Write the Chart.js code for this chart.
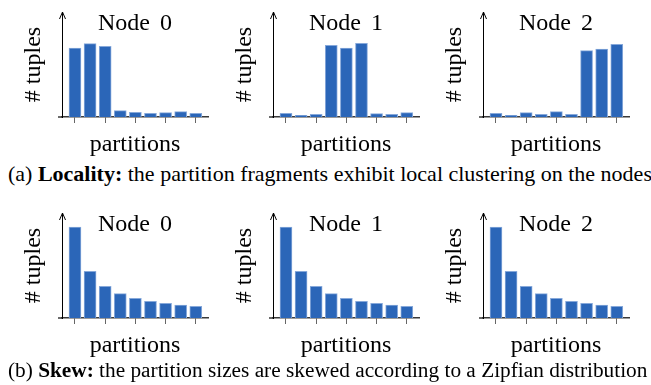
<!DOCTYPE html>
<html>
<head>
<meta charset="utf-8">
<script src="https://cdn.jsdelivr.net/npm/chart.js@4/dist/chart.umd.min.js"></script>
<style>
  body { margin: 0; background: #fff; }
  #fig { position: relative; width: 651px; height: 385px; overflow: hidden; font-family: "Liberation Serif", "Times New Roman", serif; }
  #fig canvas { position: absolute; }
  .cap { position: absolute; left: 8px; line-height: 22px; white-space: nowrap; color: #000; }
</style>
</head>
<body>
<div id="fig">
  <canvas id="a0" width="210" height="160" style="left:0px;top:0px"></canvas>
  <canvas id="a1" width="210" height="160" style="left:211px;top:0px"></canvas>
  <canvas id="a2" width="210" height="160" style="left:421px;top:0px"></canvas>
  <div class="cap" style="top:163px;font-size:22px">(a) <b>Locality:</b> the partition fragments exhibit local clustering on the nodes</div>
  <canvas id="b0" width="210" height="160" style="left:0px;top:201px"></canvas>
  <canvas id="b1" width="210" height="160" style="left:211px;top:201px"></canvas>
  <canvas id="b2" width="210" height="160" style="left:421px;top:201px"></canvas>
  <div class="cap" style="top:359px;font-size:21.3px">(b) <b>Skew:</b> the partition sizes are skewed according to a Zipfian distribution</div>
</div>
<script>
const nodeNames = ["Node 0", "Node 1", "Node 2"];
const partitions = [0, 1, 2, 3, 4, 5, 6, 7, 8];
const tickPartitions = [0, 2, 4, 6, 8];

// (a) locality: tuples per partition on each node
const localityNode0 = [69, 73.3, 70.7, 6.3, 4.7, 3.7, 4.3, 5.3, 3.7];
const localityNode1 = [3.7, 1.7, 2.7, 71.7, 69, 73.7, 3.3, 2.7, 4.3];
const localityNode2 = [3.7, 1.7, 4.3, 2.7, 5.3, 2.7, 66.3, 68, 72.7];

// (b) skew: zipfian partition sizes (same on every node)
const skewNode0 = [91, 46.7, 31.7, 24.3, 19.7, 16.7, 14.7, 13, 11.7];
const skewNode1 = [91, 46.7, 31.7, 24.3, 19.7, 16.7, 14.7, 13, 11.7];
const skewNode2 = [91, 46.7, 31.7, 24.3, 19.7, 16.7, 14.7, 13, 11.7];

const yMax = 105;

Chart.defaults.font.family = '"Liberation Serif", "Times New Roman", serif';
Chart.defaults.color = '#000';

// arrow on the y axis, small x axis overhang and the node title
const axisExtras = {
    id: 'axisExtras',
    afterDraw(chart, args, opts) {
        const { ctx, chartArea: a } = chart;
        const x0 = Math.round(a.left) + 0.5;
        ctx.save();
        ctx.strokeStyle = '#000';
        ctx.lineWidth = 1;
        ctx.beginPath();
        ctx.moveTo(x0 - 3, a.top + 7);
        ctx.lineTo(x0, a.top);
        ctx.lineTo(x0 + 3, a.top + 7);
        ctx.stroke();

        ctx.strokeStyle = '#3a3a3a';
        ctx.lineWidth = 1.5;
        ctx.beginPath();
        ctx.moveTo(a.left - 4, a.bottom);
        ctx.lineTo(a.left, a.bottom);
        ctx.stroke();

        ctx.fillStyle = '#000';
        ctx.font = '24px "Liberation Serif", "Times New Roman", serif';
        ctx.wordSpacing = '4px';
        ctx.textAlign = 'center';
        ctx.textBaseline = 'alphabetic';
        ctx.fillText(opts.text, (a.left + a.right) / 2, a.top + 17.5);
        ctx.restore();
    }
};

function makeChart(id, title, values) {
    const ctx = document.getElementById(id).getContext('2d');
    return new Chart(ctx, {
        type: 'bar',
        data: {
            datasets: [{
                data: values.map((v, i) => ({ x: partitions[i], y: v })),
                backgroundColor: '#2b66b8',
                borderColor: '#86a8da',
                borderWidth: 1,
                borderSkipped: 'start',
                barThickness: 12
            }]
        },
        options: {
            responsive: false,
            animation: false,
            devicePixelRatio: 1,
            layout: { padding: { left: 0, top: 12, right: 2, bottom: 3 } },
            plugins: {
                legend: { display: false },
                tooltip: { enabled: false },
                axisExtras: { text: title }
            },
            scales: {
                x: {
                    type: 'linear',
                    offset: false,
                    min: -0.86,
                    max: 8.81,
                    afterBuildTicks: s => { s.ticks = tickPartitions.map(v => ({ value: v })); },
                    ticks: { display: false },
                    grid: { display: true, offset: false, drawOnChartArea: false, drawTicks: true, tickLength: 6, color: '#666', lineWidth: 1 },
                    border: { display: true, color: '#3a3a3a', width: 1.5 },
                    title: { display: true, text: 'partitions', font: { size: 24, lineHeight: 1 }, padding: { top: 10, bottom: 0 } }
                },
                y: {
                    min: 0,
                    max: yMax,
                    ticks: { display: false },
                    grid: { display: false, drawTicks: false },
                    border: { display: true, color: '#000', width: 1 },
                    title: { display: true, text: '# tuples', font: { size: 24, lineHeight: 1 }, padding: { top: 22, bottom: 16 } }
                }
            }
        },
        plugins: [axisExtras]
    });
}

makeChart('a0', nodeNames[0], localityNode0);
makeChart('a1', nodeNames[1], localityNode1);
makeChart('a2', nodeNames[2], localityNode2);
makeChart('b0', nodeNames[0], skewNode0);
makeChart('b1', nodeNames[1], skewNode1);
makeChart('b2', nodeNames[2], skewNode2);
</script>
</body>
</html>
